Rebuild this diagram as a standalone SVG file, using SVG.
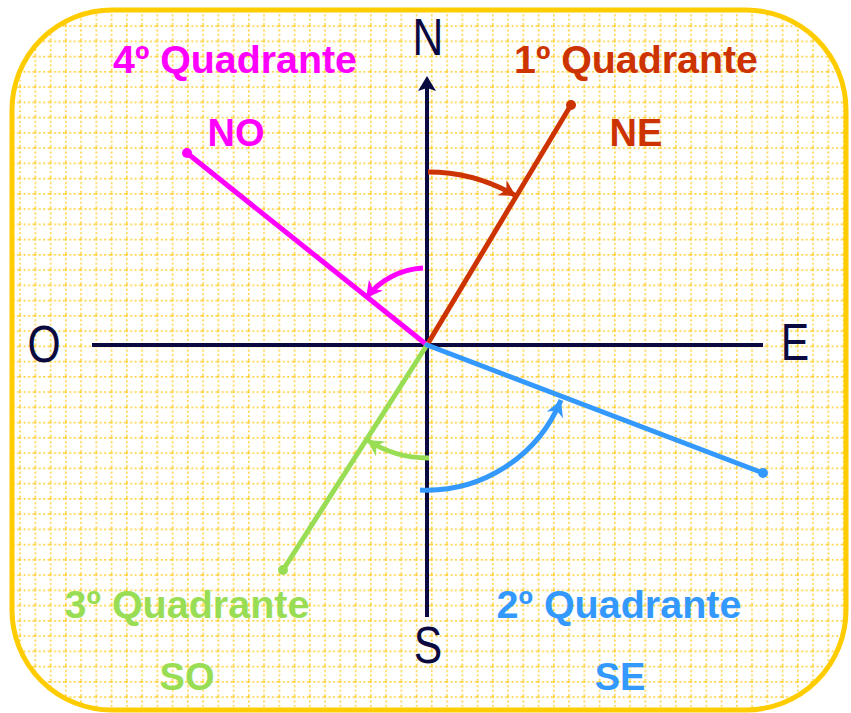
<svg xmlns="http://www.w3.org/2000/svg" width="851" height="713" viewBox="0 0 851 713">
<style>
.q{font-family:"Liberation Sans",Arial,sans-serif;font-weight:bold;font-size:38px;text-anchor:middle}
.c{font-family:"Liberation Sans",Arial,sans-serif;font-size:52px;fill:#0A0A40;text-anchor:middle}
.ax{stroke:#0A0A40;stroke-width:4;fill:none}
.ln{stroke-width:5;fill:none;stroke-linecap:round}
.arc{stroke-width:5;fill:none}
.g{stroke:#FFCF33;stroke-width:1.6;stroke-dasharray:1.8 2.6}
</style>
<defs>
<pattern id="grid" patternUnits="userSpaceOnUse" x="4" y="10" width="15.25" height="15.25">
<line class="g" x1="0.8" y1="0" x2="0.8" y2="15.25"/>
<line class="g" x1="0" y1="0.8" x2="15.25" y2="0.8"/>
</pattern>
<marker id="mr" markerUnits="userSpaceOnUse" markerWidth="20" markerHeight="20" viewBox="-14 -8 16 16" refX="0" refY="0" orient="auto"><path d="M0,0 L-13,-7 L-9,0 L-13,7 Z" fill="#CC3300"/></marker>
<marker id="mm" markerUnits="userSpaceOnUse" markerWidth="20" markerHeight="20" viewBox="-14 -8 16 16" refX="0" refY="0" orient="auto"><path d="M0,0 L-13,-7 L-9,0 L-13,7 Z" fill="#FF00FF"/></marker>
<marker id="mg" markerUnits="userSpaceOnUse" markerWidth="20" markerHeight="20" viewBox="-14 -8 16 16" refX="0" refY="0" orient="auto"><path d="M0,0 L-13,-7 L-9,0 L-13,7 Z" fill="#99DD55"/></marker>
<marker id="mb" markerUnits="userSpaceOnUse" markerWidth="20" markerHeight="20" viewBox="-14 -8 16 16" refX="0" refY="0" orient="auto"><path d="M0,0 L-13,-7 L-9,0 L-13,7 Z" fill="#3399FF"/></marker>
</defs>
<rect width="851" height="713" fill="#FFFFFF"/>
<g id="frame">
<rect x="12" y="10" width="834" height="700" rx="100" ry="100" fill="#FFFFFF"/>
<rect x="12" y="10" width="834" height="700" rx="100" ry="100" fill="url(#grid)"/>
<rect x="12" y="10" width="834" height="700" rx="100" ry="100" fill="none" stroke="#FFCC00" stroke-width="5"/>
</g>
<g id="axes">
<line class="ax" x1="92" y1="345" x2="763" y2="345"/>
<line class="ax" x1="427" y1="86" x2="427" y2="617"/>
<path d="M427,76 L436,91 L427,88 L418,91 Z" fill="#0A0A40"/>
<text class="c" transform="translate(428,55) scale(0.82,1)">N</text>
<text class="c" transform="translate(428,663) scale(0.82,1)">S</text>
<text class="c" transform="translate(44,362) scale(0.82,1)">O</text>
<text class="c" transform="translate(795,360) scale(0.82,1)">E</text>
</g>
<g id="connectors">
<line class="ln" stroke="#CC3300" x1="427" y1="345" x2="571" y2="105"/>
<line class="ln" stroke="#FF00FF" x1="427" y1="345" x2="187" y2="153"/>
<line class="ln" stroke="#99DD55" x1="427" y1="345" x2="283" y2="570"/>
<line class="ln" stroke="#3399FF" x1="427" y1="345" x2="763" y2="473"/>
<path class="arc" stroke="#CC3300" d="M428,172 A173,173 0 0,1 516,196" marker-end="url(#mr)"/>
<path class="arc" stroke="#FF00FF" d="M423,268 A77,77 0 0,0 366,298" marker-end="url(#mm)"/>
<path class="arc" stroke="#99DD55" d="M429,458 A113,113 0 0,1 367,440" marker-end="url(#mg)"/>
<path class="arc" stroke="#3399FF" d="M420,490 A145,145 0 0,0 561,400" marker-end="url(#mb)"/>
</g>
<g id="ne">
<circle cx="571" cy="105" r="5" fill="#CC3300"/>
<text class="q" fill="#CC3300" x="636" y="73" textLength="244" lengthAdjust="spacingAndGlyphs">1º Quadrante</text>
<text class="q" fill="#CC3300" x="636" y="146">NE</text>
</g>
<g id="no">
<circle cx="187" cy="153" r="5" fill="#FF00FF"/>
<text class="q" fill="#FF00FF" x="235" y="73" textLength="244" lengthAdjust="spacingAndGlyphs">4º Quadrante</text>
<text class="q" fill="#FF00FF" x="236" y="146">NO</text>
</g>
<g id="so">
<circle cx="283" cy="570" r="5" fill="#99DD55"/>
<text class="q" fill="#99DD55" x="187" y="618" textLength="245" lengthAdjust="spacingAndGlyphs">3º Quadrante</text>
<text class="q" fill="#99DD55" x="187" y="690">SO</text>
</g>
<g id="se">
<circle cx="763" cy="473" r="5" fill="#3399FF"/>
<text class="q" fill="#3399FF" x="619" y="618" textLength="245" lengthAdjust="spacingAndGlyphs">2º Quadrante</text>
<text class="q" fill="#3399FF" x="620" y="690">SE</text>
</g>
</svg>
